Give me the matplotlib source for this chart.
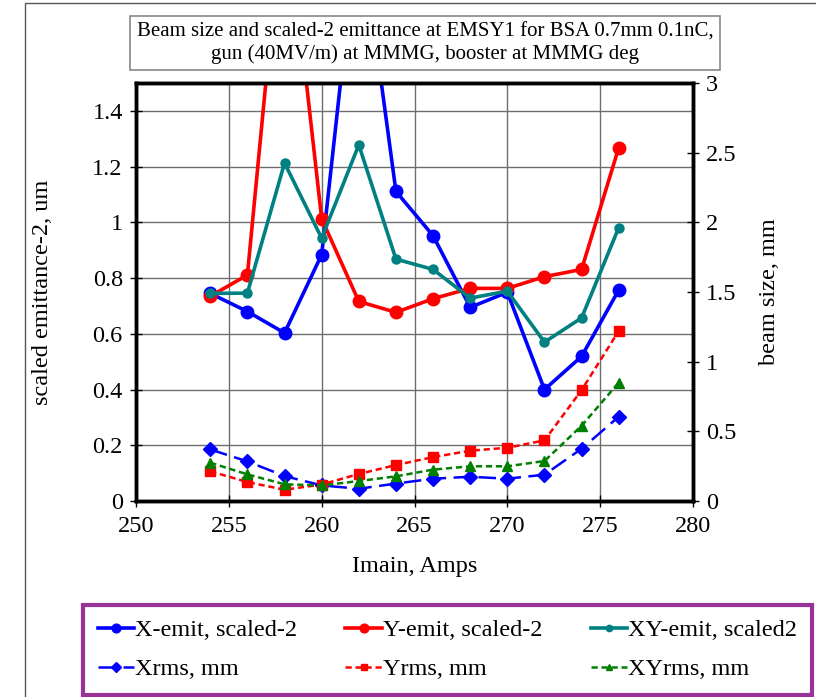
import matplotlib
matplotlib.use("Agg")
import matplotlib.pyplot as plt
from matplotlib.patches import Rectangle

plt.rcParams['font.family'] = ['Liberation Serif', 'DejaVu Serif']

# Imain scan, Amps
imain = [254, 256, 258, 260, 262, 264, 266, 268, 270, 272, 274, 276]

# scaled-2 emittance, um (left axis)
x_emit = [0.745, 0.680, 0.603, 0.884, 2.10, 1.111, 0.952, 0.695, 0.749, 0.400, 0.519, 0.757]
y_emit = [0.735, 0.811, 2.20, 1.013, 0.716, 0.677, 0.726, 0.763, 0.763, 0.805, 0.831, 1.268]
xy_emit = [0.745, 0.746, 1.213, 0.943, 1.278, 0.868, 0.831, 0.728, 0.753, 0.570, 0.657, 0.981]

# rms beam size, mm (right axis)
x_rms = [0.370, 0.284, 0.179, 0.112, 0.088, 0.125, 0.160, 0.174, 0.160, 0.189, 0.375, 0.605]
y_rms = [0.213, 0.136, 0.081, 0.118, 0.194, 0.258, 0.315, 0.361, 0.382, 0.435, 0.796, 1.220]
xy_rms = [0.275, 0.191, 0.120, 0.112, 0.143, 0.177, 0.225, 0.249, 0.249, 0.287, 0.540, 0.850]

left_ticks = [0, 0.2, 0.4, 0.6, 0.8, 1.0, 1.2, 1.4]
left_labels = ['0', '0.2', '0.4', '0.6', '0.8', '1', '1.2', '1.4']
right_ticks = [0, 0.5, 1, 1.5, 2, 2.5, 3]
right_labels = ['0', '0.5', '1', '1.5', '2', '2.5', '3']

W, H = 816, 697
FS = 17.5
fig = plt.figure(figsize=(W / 100, H / 100), dpi=100)

# chart area border
fig.patches.append(Rectangle((25 / W, -0.01), 1.0, 1 - 3 / H + 0.01, transform=fig.transFigure,
                             fill=False, edgecolor='#555555', linewidth=1.0))

ax = fig.add_axes([136 / W, 1 - 501 / H, 557 / W, 418 / H])
ax2 = ax.twinx()

l1, = ax.plot(imain, x_emit, '-o', color='#0000FF', lw=2.6, ms=9, label='X-emit, scaled-2')
l2, = ax.plot(imain, y_emit, '-o', color='#FF0000', lw=2.6, ms=9, label='Y-emit, scaled-2')
l3, = ax.plot(imain, xy_emit, '-o', color='#008080', lw=2.6, ms=6.5, label='XY-emit, scaled2')

l4, = ax2.plot(imain, x_rms, '-D', color='#0000FF', lw=1.8, ms=7, dashes=(7, 3), label='Xrms, mm')
l5, = ax2.plot(imain, y_rms, '-s', color='#FF0000', lw=1.8, ms=6.5, dashes=(2.5, 1.5), label='Yrms, mm')
l6, = ax2.plot(imain, xy_rms, '-^', color='#008000', lw=1.8, ms=7, dashes=(2.5, 1.5), label='XYrms, mm')

ax.set_xlim(250, 280)
ax.set_ylim(0, 1.5)
ax2.set_ylim(0, 3)
ax.set_xticks(range(250, 281, 5))
ax.set_yticks(left_ticks)
ax.set_yticklabels(left_labels)
ax2.set_yticks(right_ticks)
ax2.set_yticklabels(right_labels)

ax.grid(True, color='#6e6e6e', linewidth=1.0)
ax.set_axisbelow(True)

for a in (ax, ax2):
    for s in a.spines.values():
        s.set_linewidth(2.5)
    a.tick_params(direction='inout', length=9, width=1, labelsize=FS)
ax.tick_params(axis='x', pad=6)
ax.tick_params(axis='y', pad=5)
ax2.tick_params(axis='y', pad=5)

ax.set_xlabel('Imain, Amps', fontsize=FS, labelpad=14)
ax.set_ylabel('scaled emittance-2, um', fontsize=FS, labelpad=28)
ax2.set_ylabel('beam size, mm', fontsize=FS, labelpad=16)

fig.text(425 / W, 1 - 43 / H,
         'Beam size and scaled-2 emittance at EMSY1 for BSA 0.7mm 0.1nC,\n'
         'gun (40MV/m) at MMMG, booster at MMMG deg',
         ha='center', va='center', fontsize=15, linespacing=1.2,
         bbox=dict(boxstyle='square,pad=0.3', facecolor='white', edgecolor='#888888', linewidth=1.2))

# legend is filled column by column, so interleave the two rows
handles = [l1, l4, l2, l5, l3, l6]
leg = fig.legend(handles, [h.get_label() for h in handles], ncol=3,
                 loc='lower left', bbox_to_anchor=(83 / W, 2 / H, 729 / W, 96 / H), mode='expand',
                 fontsize=FS, frameon=True, fancybox=False, handlelength=1.5,
                 handletextpad=0.05, borderpad=0.6, labelspacing=0.7, markerscale=0.7,
                 borderaxespad=0)
leg.get_frame().set_edgecolor('#800080')
leg.get_frame().set_linewidth(3)

fig.savefig('out.png', dpi=100)
